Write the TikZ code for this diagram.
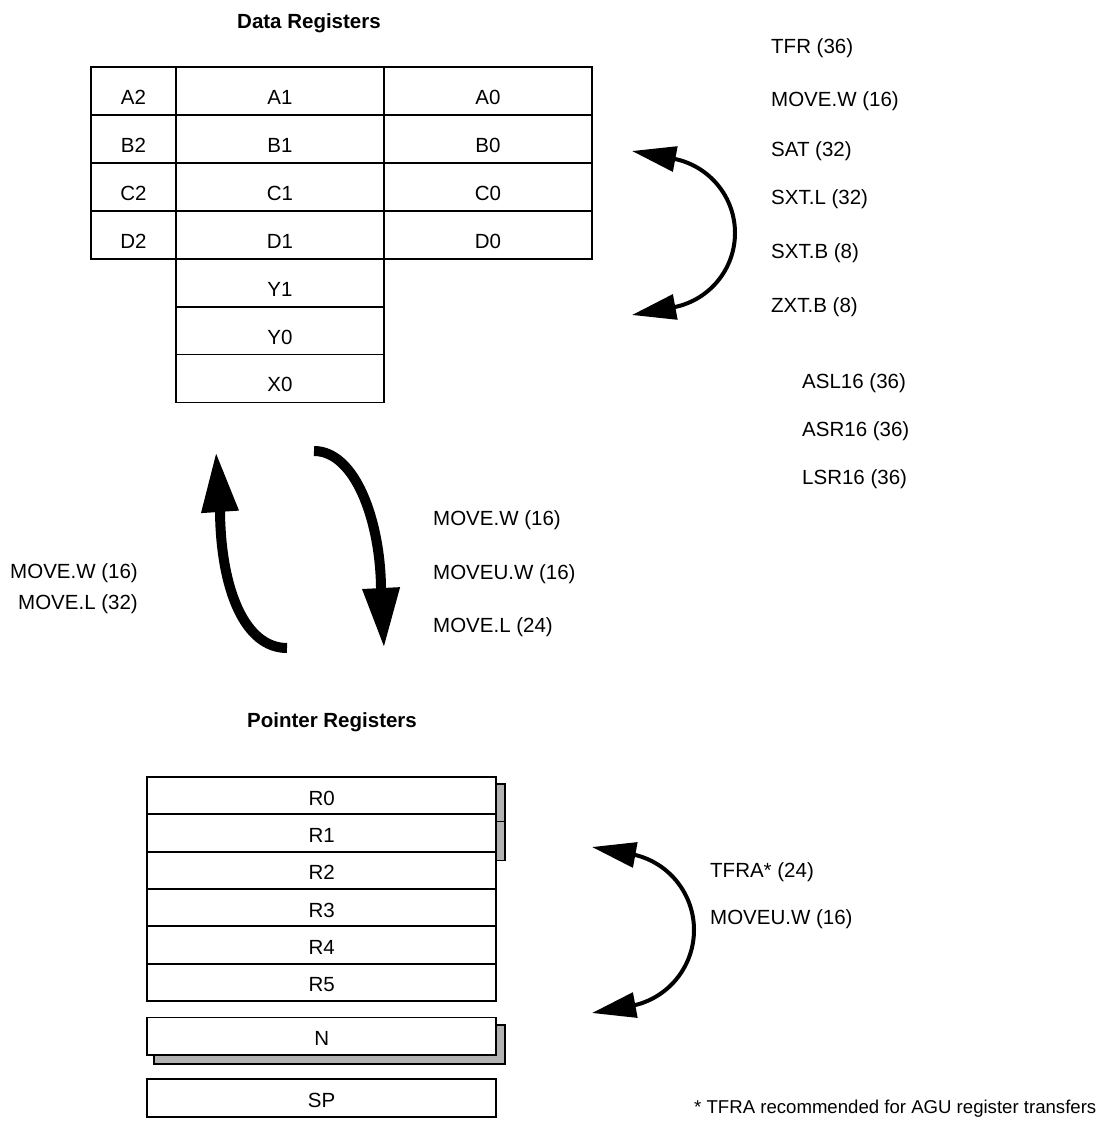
\documentclass[tikz,border=0pt]{standalone}
\usepackage{fontspec}
\setmainfont{Liberation Sans}
\usetikzlibrary{arrows.meta,backgrounds}
\tikzset{
  txt/.style={font=\fontsize{20.5}{24}\selectfont},
  cell/.style={txt, draw, fill=white, line width=1.8pt, inner sep=0pt, minimum height=48pt, text height=26.3pt, text depth=0pt},
  narrow/.style={cell, minimum width=85pt},
  wide/.style={cell, minimum width=208pt},
  preg/.style={txt, draw, fill=white, line width=1.8pt, inner sep=0pt, minimum width=349pt, minimum height=37.3pt, text height=18.7pt, text depth=0pt},
  shadowbox/.style={draw, fill=black!30, line width=1.8pt},
  lab/.style={txt, inner sep=0pt, anchor=base west},
  labr/.style={txt, inner sep=0pt, anchor=base east},
  title/.style={inner sep=0pt, anchor=base, font=\fontsize{20.5}{24}\selectfont\bfseries},
  thinarrow/.style={line width=4pt, {Triangle[length=44pt,width=25pt]}-{Triangle[length=44pt,width=25pt]}},
  bigarrow/.style={line width=10pt, -{Triangle[length=60pt,width=35pt]}}
}
\begin{document}
\begin{tikzpicture}[x=1pt,y=-1pt]
\useasboundingbox (0,0) rectangle (1096,1127);

% ---- Data registers
\node[title] (dtitle) at (309,28.3) {Data Registers};
\node[narrow] (a2) at (133.5,91) {A2};
\node[wide]   (a1) at (280,91) {A1};
\node[wide]   (a0) at (488,91) {A0};
\node[narrow] (b2) at (133.5,139) {B2};
\node[wide]   (b1) at (280,139) {B1};
\node[wide]   (b0) at (488,139) {B0};
\node[narrow] (c2) at (133.5,187) {C2};
\node[wide]   (c1) at (280,187) {C1};
\node[wide]   (c0) at (488,187) {C0};
\node[narrow] (d2) at (133.5,235) {D2};
\node[wide]   (d1) at (280,235) {D1};
\node[wide]   (d0) at (488,235) {D0};
\node[wide]   (y1) at (280,283) {Y1};
\node[wide]   (y0) at (280,331) {Y0};
\node[wide]   (x0) at (280,378.5) {X0};

% ---- right-hand labels
\node[lab] (tfr)   at (771,53.3)  {TFR (36)};
\node[lab] (movw)  at (771,106.3) {MOVE.W (16)};
\node[lab] (sat)   at (771,156.3) {SAT (32)};
\node[lab] (sxtl)  at (771,204.3) {SXT.L (32)};
\node[lab] (sxtb)  at (771,258.3) {SXT.B (8)};
\node[lab] (zxtb)  at (771,312.3) {ZXT.B (8)};
\node[lab] (asl)   at (802,388.3) {ASL16 (36)};
\node[lab] (asr)   at (802,436.3) {ASR16 (36)};
\node[lab] (lsr)   at (802,484.3) {LSR16 (36)};

% top right double arrow
\coordinate (t1a) at (632,151);
\coordinate (t1b) at (675,159);
\coordinate (t1c) at (735,233);
\coordinate (t1d) at (675,307);
\coordinate (t1e) at (632,315);
\draw[thinarrow] (t1a) -- (t1b) .. controls (709.9,166.4) and (735,197.3) .. (t1c)
  .. controls (735,268.7) and (709.9,299.6) .. (t1d) -- (t1e);

% ---- vertical arrows
\coordinate (upS) at (287,648);
\coordinate (upB) at (220,512);
\coordinate (upT) at (216,452);
\draw[bigarrow] (upS) .. controls (245,648) and (221,590) .. (upB) -- (upT);
\coordinate (dnS) at (314,451);
\coordinate (dnB) at (381,587);
\coordinate (dnT) at (384,648);
\draw[bigarrow] (dnS) .. controls (355,451) and (380,520) .. (dnB) -- (dnT);

\node[labr] (lmw) at (138,578.3) {MOVE.W (16)};
\node[labr] (lml) at (138,609.3) {MOVE.L (32)};
\node[lab] (mmw)  at (433,525.3) {MOVE.W (16)};
\node[lab] (mmuw) at (433,579.3) {MOVEU.W (16)};
\node[lab] (mml)  at (433,632.3) {MOVE.L (24)};

% ---- Pointer registers
\node[title] (ptitle) at (332,727.3) {Pointer Registers};
\node[preg] (r0) at (321.65,795.67) {R0};
\node[preg] (r1) at (321.65,833) {R1};
\node[preg] (r2) at (321.65,870.33) {R2};
\node[preg] (r3) at (321.65,907.67) {R3};
\node[preg] (r4) at (321.65,945) {R4};
\node[preg] (r5) at (321.65,982.33) {R5};
\node[preg] (n)  at (321.65,1036.2) {N};
\node[preg] (sp) at (321.65,1098) {SP};

\begin{scope}[on background layer]
  \draw[shadowbox] ([shift={(8,8)}]r0.north west) rectangle ([shift={(8,8)}]r0.south east);
  \draw[shadowbox] ([shift={(8,8)}]r1.north west) rectangle ([shift={(8,8)}]r1.south east);
  \draw[shadowbox] ([shift={(8,8)}]n.north west) rectangle ([shift={(8,8)}]n.south east);
\end{scope}

% bottom right double arrow
\coordinate (t2a) at (592,847);
\coordinate (t2b) at (635.5,855);
\coordinate (t2c) at (694,930);
\coordinate (t2d) at (635.5,1005);
\coordinate (t2e) at (592,1013);
\draw[thinarrow] (t2a) -- (t2b) .. controls (669.9,863.6) and (694,894.6) .. (t2c)
  .. controls (694,965.4) and (669.9,996.4) .. (t2d) -- (t2e);

\node[lab] (tfra) at (710,877.3) {TFRA* (24)};
\node[lab] (muw)  at (710,924.3) {MOVEU.W (16)};

\node[lab, font=\fontsize{18.6}{22}\selectfont] (foot) at (694,1113.7) {* TFRA recommended for AGU register transfers};
\end{tikzpicture}
\end{document}
